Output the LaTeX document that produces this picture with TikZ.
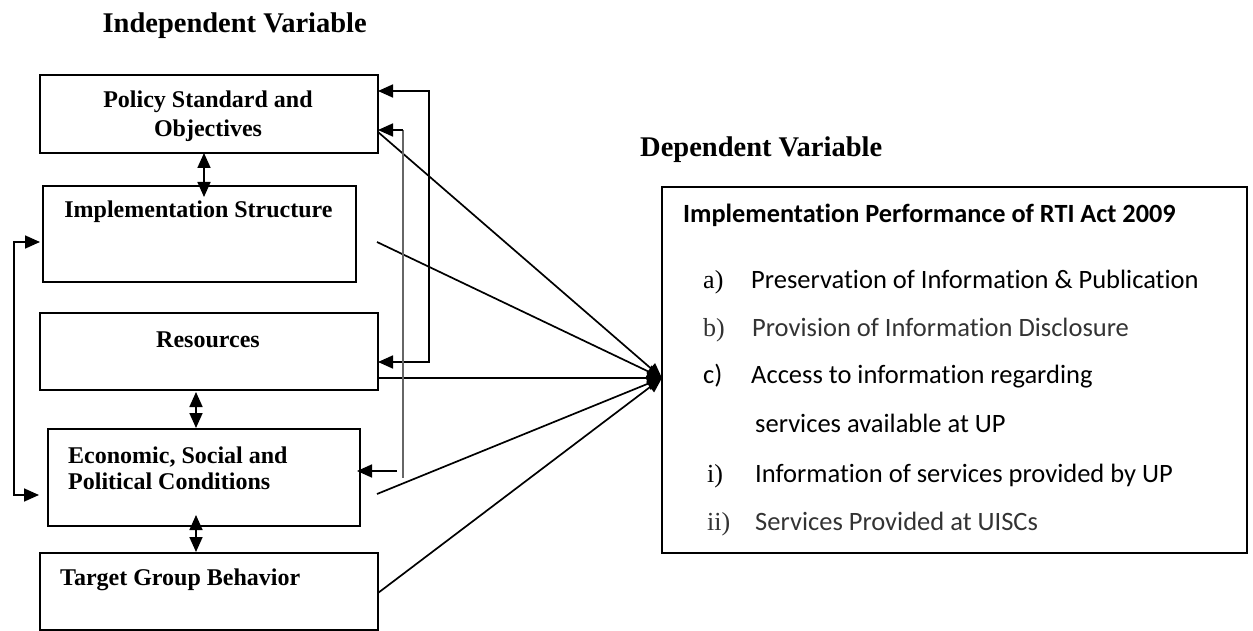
\documentclass[tikz,border=0pt]{standalone}
\usepackage{fontspec}
\setmainfont{Liberation Serif}
\newfontfamily\calibri[Ligatures=NoCommon]{Carlito}
\usetikzlibrary{arrows.meta}
\begin{document}
\begin{tikzpicture}[x=1pt,y=-1pt,
  box/.style={draw,line width=1.8pt,inner sep=0pt,outer sep=0pt},
  link/.style={line width=1.7pt},
  thin/.style={line width=1.1pt,draw=black!60},
  >={Triangle[length=15pt,width=13pt]},
  ttl/.style={font=\fontsize{28.5}{34}\selectfont\bfseries,inner sep=0pt},
  lbl/.style={font=\fontsize{24}{29}\selectfont\bfseries,inner sep=0pt},
  head/.style={font=\calibri\bfseries\fontsize{26.3}{31}\selectfont,inner sep=0pt,anchor=base west},
  item/.style={font=\calibri\fontsize{26.5}{32}\selectfont,inner sep=0pt,anchor=base west},
  mk/.style={font=\fontsize{26}{32}\selectfont,inner sep=0pt,anchor=base west}]
\useasboundingbox (0,0) rectangle (1253,631);

% titles
\node[ttl,anchor=base east] (tin) at (367,33) {Independent Variable};
\node[ttl,anchor=base west] (tdep) at (640,157) {Dependent Variable};

% independent variable boxes
\node[box,minimum width=338pt,minimum height=78pt] (pol) at (209,114) {};
\node[box,minimum width=313pt,minimum height=96pt] (imp) at (199.5,234) {};
\node[box,minimum width=338pt,minimum height=77pt] (res) at (209,351.5) {};
\node[box,minimum width=312pt,minimum height=97pt] (eco) at (204,477.5) {};
\node[box,minimum width=338pt,minimum height=77pt] (tgt) at (209,591.5) {};

\node[lbl,anchor=base] (pol1) at (208,108) {Policy Standard and};
\node[lbl,anchor=base] (pol2) at (208,137) {Objectives};
\node[lbl,anchor=base] (impt) at (198.5,218) {Implementation Structure};
\node[lbl,anchor=base] (rest) at (208,347) {Resources};
\node[lbl,anchor=base west] (eco1) at (68,463) {Economic, Social and};
\node[lbl,anchor=base west] (eco2) at (68,489) {Political Conditions};
\node[lbl,anchor=base west] (tgtt) at (60,585) {Target Group Behavior};

% dependent variable box
\node[box,minimum width=585pt,minimum height=366pt] (dep) at (954.5,370) {};
\node[head] (dh) at (683,223) {Implementation Performance of RTI Act 2009};
\node[mk] (ma) at (703,288) {a)};
\node[item] (ia) at (751,288) {Preservation of Information \& Publication};
\node[mk,text=black!80] (mb) at (703,336) {b)};
\node[item,text=black!80] (ib) at (752,336) {Provision of Information Disclosure};
\node[item] (mc) at (703,383) {c)};
\node[item] (ic) at (751,383) {Access to information regarding};
\node[item] (ic2) at (755,432) {services available at UP};
\node[mk] (mi) at (707,482) {i)};
\node[item] (ii) at (755,482) {Information of services provided by UP};
\node[mk,text=black!80] (mii) at (707,530) {ii)};
\node[item,text=black!80] (iii) at (755,530) {Services Provided at UISCs};

% connector end points
\coordinate (hub) at (662,378);
\coordinate (p1) at (378,132);
\coordinate (p2) at (377,242);
\coordinate (p4) at (377,494);
\coordinate (p5) at (378,593);
\coordinate (fbA) at (378,91);
\coordinate (fbB) at (378,362);
\coordinate (gA) at (378,130);
\coordinate (gTop) at (403,130);
\coordinate (gBot) at (403,478);
\coordinate (eA) at (397,471);
\coordinate (eB) at (357,471);
\coordinate (lA) at (40,242);
\coordinate (lB) at (39,495);

% converging influences
\draw[link,->] (p1) -- (hub);
\draw[link,->] (p2) -- (hub);
\draw[link,->] (res.east |- hub) -- (hub);
\draw[link,->] (p4) -- (hub);
\draw[link,->] (p5) -- (hub);

% feedback loops on the right
\draw[link,<->] (fbA) -- (fbA -| 429,0) -- (fbB -| 429,0) -- (fbB);
\draw[thin] (gTop) -- (gBot);
\draw[link,->] (gTop) -- (gA);
\draw[link,->] (eA) -- (eB);

% loop on the left
\draw[link,<->] (lA) -- (14,242) -- (14,495) -- (lB);

% vertical two-way links
\draw[link,<->] (204,153) -- (204,197);
\draw[link,<->] (196,392) -- (196,428);
\draw[link,<->] (196,515) -- (196,552);
\end{tikzpicture}
\end{document}
